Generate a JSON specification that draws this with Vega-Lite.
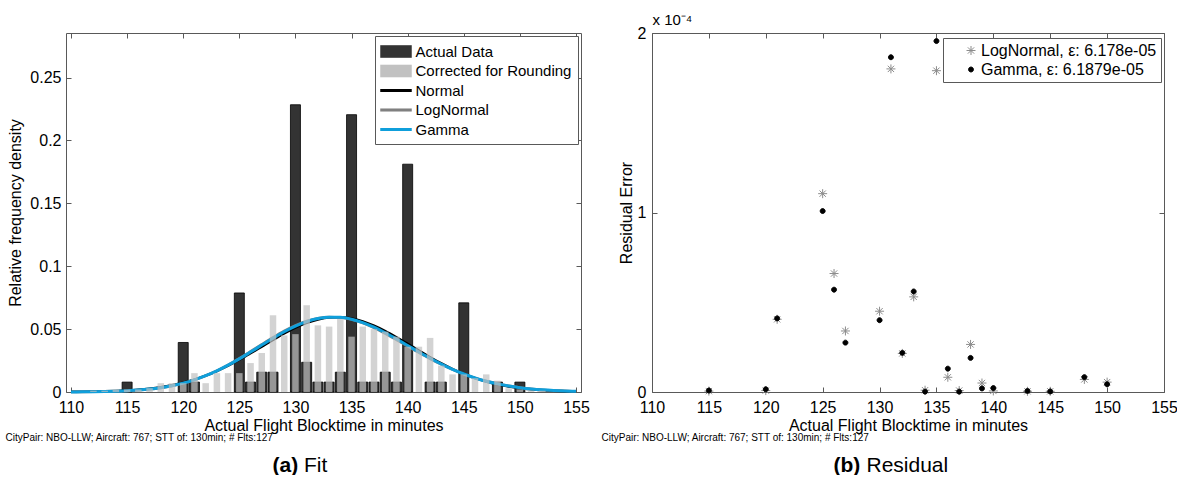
{
  "$schema": "https://vega.github.io/schema/vega-lite/v6.json",
  "background": "white",
  "padding": {"left": 5, "top": 12, "right": 5, "bottom": 0},
  "bounds": "flush",
  "spacing": 71,
  "config": {
    "font": "Liberation Sans",
    "view": {"stroke": null},
    "axis": {
      "labelFont": "Liberation Sans", "titleFont": "Liberation Sans",
      "labelFontSize": 16, "titleFontSize": 16, "titleFontWeight": "normal",
      "labelColor": "#000000", "titleColor": "#000000",
      "domainColor": "#595959", "tickColor": "#595959", "domainWidth": 1, "tickWidth": 1,
      "grid": false, "tickSize": -5, "labelFlush": false, "labelOverlap": false, "minExtent": 0
    },
    "legend": {"labelFont": "Liberation Sans", "labelFontSize": 15, "labelColor": "#000000", "strokeColor": "#595959", "fillColor": "#ffffff", "labelLimit": 400},
    "title": {"font": "Liberation Sans", "color": "#000000", "fontWeight": "normal"}
  },
  "datasets": {
    "actual": [
      {"minute": 115, "density": 0.00787}, {"minute": 120, "density": 0.03937}, {"minute": 121, "density": 0.00787},
      {"minute": 125, "density": 0.07874}, {"minute": 126, "density": 0.00787}, {"minute": 127, "density": 0.01575},
      {"minute": 128, "density": 0.01575}, {"minute": 130, "density": 0.22835}, {"minute": 131, "density": 0.02362},
      {"minute": 132, "density": 0.00787}, {"minute": 133, "density": 0.00787}, {"minute": 134, "density": 0.01575},
      {"minute": 135, "density": 0.22047}, {"minute": 136, "density": 0.00787}, {"minute": 137, "density": 0.00787},
      {"minute": 138, "density": 0.01575}, {"minute": 139, "density": 0.00787}, {"minute": 140, "density": 0.1811},
      {"minute": 142, "density": 0.00787}, {"minute": 143, "density": 0.00787}, {"minute": 145, "density": 0.07087},
      {"minute": 148, "density": 0.00787}, {"minute": 150, "density": 0.00787}
    ],
    "corrected": [
      {"minute": 112, "density": 0.001}, {"minute": 113, "density": 0.001}, {"minute": 114, "density": 0.002},
      {"minute": 115, "density": 0.002}, {"minute": 116, "density": 0.002}, {"minute": 117, "density": 0.003},
      {"minute": 118, "density": 0.007}, {"minute": 119, "density": 0.007}, {"minute": 120, "density": 0.007},
      {"minute": 121, "density": 0.015}, {"minute": 122, "density": 0.007}, {"minute": 123, "density": 0.015},
      {"minute": 124, "density": 0.015}, {"minute": 125, "density": 0.015}, {"minute": 126, "density": 0.023},
      {"minute": 127, "density": 0.031}, {"minute": 128, "density": 0.061}, {"minute": 129, "density": 0.045},
      {"minute": 130, "density": 0.046}, {"minute": 131, "density": 0.069}, {"minute": 132, "density": 0.053},
      {"minute": 133, "density": 0.052}, {"minute": 134, "density": 0.058}, {"minute": 135, "density": 0.044},
      {"minute": 136, "density": 0.052}, {"minute": 137, "density": 0.05}, {"minute": 138, "density": 0.048},
      {"minute": 139, "density": 0.044}, {"minute": 140, "density": 0.036}, {"minute": 141, "density": 0.036},
      {"minute": 142, "density": 0.043}, {"minute": 143, "density": 0.021}, {"minute": 144, "density": 0.014},
      {"minute": 145, "density": 0.014}, {"minute": 146, "density": 0.011}, {"minute": 147, "density": 0.014},
      {"minute": 148, "density": 0.009}, {"minute": 149, "density": 0.003}, {"minute": 150, "density": 0.002},
      {"minute": 151, "density": 0.001}, {"minute": 152, "density": 0.001}
    ],
    "curves": [
      {"minute": 110, "normal": 0.00011, "lognormal": 0.00002, "gamma": 0.00005},
      {"minute": 111, "normal": 0.00019, "lognormal": 0.00005, "gamma": 0.0001},
      {"minute": 112, "normal": 0.00031, "lognormal": 0.00012, "gamma": 0.00019},
      {"minute": 113, "normal": 0.0005, "lognormal": 0.00025, "gamma": 0.00033},
      {"minute": 114, "normal": 0.00079, "lognormal": 0.00046, "gamma": 0.00057},
      {"minute": 115, "normal": 0.00121, "lognormal": 0.0008, "gamma": 0.00094},
      {"minute": 116, "normal": 0.00182, "lognormal": 0.00134, "gamma": 0.0015},
      {"minute": 117, "normal": 0.00267, "lognormal": 0.00214, "gamma": 0.00231},
      {"minute": 118, "normal": 0.00382, "lognormal": 0.00326, "gamma": 0.00345},
      {"minute": 119, "normal": 0.00537, "lognormal": 0.00484, "gamma": 0.00502},
      {"minute": 120, "normal": 0.00736, "lognormal": 0.00692, "gamma": 0.00707},
      {"minute": 121, "normal": 0.00987, "lognormal": 0.00959, "gamma": 0.00969},
      {"minute": 122, "normal": 0.01297, "lognormal": 0.01294, "gamma": 0.01296},
      {"minute": 123, "normal": 0.01664, "lognormal": 0.01694, "gamma": 0.01684},
      {"minute": 124, "normal": 0.02088, "lognormal": 0.02157, "gamma": 0.02134},
      {"minute": 125, "normal": 0.02562, "lognormal": 0.02672, "gamma": 0.02635},
      {"minute": 126, "normal": 0.03078, "lognormal": 0.03226, "gamma": 0.03177},
      {"minute": 127, "normal": 0.03611, "lognormal": 0.03792, "gamma": 0.03731},
      {"minute": 128, "normal": 0.04146, "lognormal": 0.04345, "gamma": 0.04279},
      {"minute": 129, "normal": 0.04656, "lognormal": 0.04861, "gamma": 0.04791},
      {"minute": 130, "normal": 0.05113, "lognormal": 0.05302, "gamma": 0.05241},
      {"minute": 131, "normal": 0.0549, "lognormal": 0.05646, "gamma": 0.05594},
      {"minute": 132, "normal": 0.05765, "lognormal": 0.05873, "gamma": 0.05836},
      {"minute": 133, "normal": 0.05921, "lognormal": 0.05967, "gamma": 0.05952},
      {"minute": 134, "normal": 0.05948, "lognormal": 0.05928, "gamma": 0.05935},
      {"minute": 135, "normal": 0.05843, "lognormal": 0.05759, "gamma": 0.05787},
      {"minute": 136, "normal": 0.05613, "lognormal": 0.05473, "gamma": 0.0552},
      {"minute": 137, "normal": 0.05274, "lognormal": 0.05095, "gamma": 0.05154},
      {"minute": 138, "normal": 0.04846, "lognormal": 0.04645, "gamma": 0.04712},
      {"minute": 139, "normal": 0.04354, "lognormal": 0.04149, "gamma": 0.04218},
      {"minute": 140, "normal": 0.03827, "lognormal": 0.03636, "gamma": 0.037},
      {"minute": 141, "normal": 0.03288, "lognormal": 0.03127, "gamma": 0.0318},
      {"minute": 142, "normal": 0.02764, "lognormal": 0.02638, "gamma": 0.0268},
      {"minute": 143, "normal": 0.02271, "lognormal": 0.02187, "gamma": 0.02214},
      {"minute": 144, "normal": 0.01826, "lognormal": 0.01781, "gamma": 0.01796},
      {"minute": 145, "normal": 0.01435, "lognormal": 0.01426, "gamma": 0.01429},
      {"minute": 146, "normal": 0.01104, "lognormal": 0.01123, "gamma": 0.01116},
      {"minute": 147, "normal": 0.0083, "lognormal": 0.00869, "gamma": 0.00856},
      {"minute": 148, "normal": 0.0061, "lognormal": 0.00661, "gamma": 0.00644},
      {"minute": 149, "normal": 0.00439, "lognormal": 0.00495, "gamma": 0.00476},
      {"minute": 150, "normal": 0.00309, "lognormal": 0.00364, "gamma": 0.00345},
      {"minute": 151, "normal": 0.00212, "lognormal": 0.00262, "gamma": 0.00245},
      {"minute": 152, "normal": 0.00143, "lognormal": 0.00187, "gamma": 0.00172},
      {"minute": 153, "normal": 0.00094, "lognormal": 0.0013, "gamma": 0.00118},
      {"minute": 154, "normal": 0.00061, "lognormal": 0.0009, "gamma": 0.0008},
      {"minute": 155, "normal": 0.00038, "lognormal": 0.00059, "gamma": 0.00052}
    ],
    "residual": [
      {"minute": 115, "lognormal": 5e-7, "gamma": 8e-7},
      {"minute": 120, "lognormal": 8e-7, "gamma": 1.5e-6},
      {"minute": 121, "lognormal": 4.05e-5, "gamma": 4.1e-5},
      {"minute": 125, "lognormal": 1.105e-4, "gamma": 1.008e-4},
      {"minute": 126, "lognormal": 6.6e-5, "gamma": 5.7e-5},
      {"minute": 127, "lognormal": 3.4e-5, "gamma": 2.75e-5},
      {"minute": 130, "lognormal": 4.5e-5, "gamma": 4.0e-5},
      {"minute": 131, "lognormal": 1.8e-4, "gamma": 1.865e-4},
      {"minute": 132, "lognormal": 2.15e-5, "gamma": 2.18e-5},
      {"minute": 133, "lognormal": 5.3e-5, "gamma": 5.6e-5},
      {"minute": 134, "lognormal": 1.0e-6, "gamma": 2e-7},
      {"minute": 135, "lognormal": 1.79e-4, "gamma": 1.955e-4},
      {"minute": 136, "lognormal": 8.2e-6, "gamma": 1.3e-5},
      {"minute": 137, "lognormal": 8e-7, "gamma": 2e-7},
      {"minute": 138, "lognormal": 2.65e-5, "gamma": 1.9e-5},
      {"minute": 139, "lognormal": 5.0e-6, "gamma": 2.0e-6},
      {"minute": 140, "lognormal": 6e-7, "gamma": 2.2e-6},
      {"minute": 143, "lognormal": 4e-7, "gamma": 6e-7},
      {"minute": 145, "lognormal": 4e-7, "gamma": 3e-7},
      {"minute": 148, "lognormal": 7.0e-6, "gamma": 8.3e-6},
      {"minute": 150, "lognormal": 5.5e-6, "gamma": 4.3e-6}
    ]
  },
  "hconcat": [
    {
      "width": 515,
      "height": 359,
      "resolve": {"axis": {"x": "independent", "y": "independent"}},
      "layer": [
        {
          "data": {"name": "actual"},
          "mark": {"type": "bar", "size": 10, "stroke": "#000000", "strokeWidth": 0.8},
          "encoding": {
            "x": {"field": "minute", "type": "quantitative", "scale": {"domain": [110, 155], "nice": false, "zero": false},
                  "axis": {"orient": "bottom", "values": [110, 115, 120, 125, 130, 135, 140, 145, 150, 155], "title": "Actual Flight Blocktime in minutes", "labelPadding": 12, "titlePadding": 2}},
            "y": {"field": "density", "type": "quantitative", "scale": {"domain": [0, 0.2854], "nice": false},
                  "axis": {"orient": "left", "values": [0, 0.05, 0.1, 0.15, 0.2, 0.25], "format": "~g", "title": "Relative frequency density", "labelPadding": 10, "titlePadding": 6}},
            "color": {
              "datum": "Actual Data",
              "scale": {"domain": ["Actual Data", "Corrected for Rounding", "Normal", "LogNormal", "Gamma"], "range": ["#333333", "#c1c1c1", "#000000", "#808080", "#0f9fdb"]},
              "legend": {
                "title": null, "orient": "none", "legendX": 309, "legendY": 3,
                "padding": 6.5, "symbolSize": 324, "symbolOffset": 5.5, "labelOffset": 10.5, "rowPadding": 2.5,
                "symbolStrokeWidth": 0,
                "encoding": {"symbols": {
                  "shape": {"condition": {"test": "datum.value === 'Actual Data' || datum.value === 'Corrected for Rounding'", "value": "M-1.75,-0.7L1.75,-0.7L1.75,0.7L-1.75,0.7Z"}, "value": "M-1.75,-0.17L1.75,-0.17L1.75,0.17L-1.75,0.17Z"},
                  "fill": {"condition": [{"test": "datum.value === 'Actual Data'", "value": "#333333"}, {"test": "datum.value === 'Corrected for Rounding'", "value": "#d3d3d3"}, {"test": "datum.value === 'Normal'", "value": "#000000"}, {"test": "datum.value === 'LogNormal'", "value": "#808080"}], "value": "#0f9fdb"},
                  "opacity": {"value": 1}
                }}
              }
            }
          }
        },
        {
          "data": {"name": "curves"},
          "mark": {"type": "line", "strokeWidth": 2.5, "interpolate": "monotone"},
          "encoding": {
            "x": {"field": "minute", "type": "quantitative",
                  "axis": {"orient": "bottom", "domain": false, "ticks": false, "labels": false, "title": "CityPair: NBO-LLW; Aircraft: 767; STT of: 130min; # Flts:127", "titleFontSize": 10, "titleX": -61, "titleY": 45, "titleAlign": "left", "titleBaseline": "middle"}},
            "y": {"field": "normal", "type": "quantitative", "axis": null},
            "color": {"datum": "Normal"}
          }
        },
        {
          "data": {"name": "curves"},
          "mark": {"type": "line", "strokeWidth": 2.5, "interpolate": "monotone"},
          "encoding": {
            "x": {"field": "minute", "type": "quantitative",
                  "axis": {"orient": "bottom", "domain": false, "ticks": false, "labels": false, "title": "(a)", "titleFontSize": 21, "titleFontWeight": "bold", "titleX": 206, "titleY": 73, "titleAlign": "left", "titleBaseline": "middle"}},
            "y": {"field": "lognormal", "type": "quantitative", "axis": null},
            "color": {"datum": "LogNormal"}
          }
        },
        {
          "data": {"name": "curves"},
          "mark": {"type": "line", "strokeWidth": 3, "interpolate": "monotone"},
          "encoding": {
            "x": {"field": "minute", "type": "quantitative",
                  "axis": {"orient": "bottom", "domain": false, "ticks": false, "labels": false, "title": "Fit", "titleFontSize": 21, "titleX": 237.5, "titleY": 73, "titleAlign": "left", "titleBaseline": "middle"}},
            "y": {"field": "gamma", "type": "quantitative", "axis": null},
            "color": {"datum": "Gamma"}
          }
        },
        {
          "data": {"name": "corrected"},
          "mark": {"type": "bar", "size": 6.5, "opacity": 0.7},
          "encoding": {
            "x": {"field": "minute", "type": "quantitative",
                  "axis": {"orient": "top", "labels": false, "title": null, "values": [110, 115, 120, 125, 130, 135, 140, 145, 150, 155]}},
            "y": {"field": "density", "type": "quantitative",
                  "axis": {"orient": "right", "labels": false, "title": null, "values": [0, 0.05, 0.1, 0.15, 0.2, 0.25]}},
            "color": {"datum": "Corrected for Rounding"}
          }
        }
      ]
    },
    {
      "width": 512,
      "height": 359,
      "resolve": {"axis": {"x": "independent", "y": "independent"}},
      "layer": [
        {
          "data": {"name": "residual"},
          "mark": {"type": "point", "strokeWidth": 1, "opacity": 1, "size": 81},
          "encoding": {
            "x": {"field": "minute", "type": "quantitative", "scale": {"domain": [110, 155], "nice": false, "zero": false},
                  "axis": {"orient": "bottom", "values": [110, 115, 120, 125, 130, 135, 140, 145, 150, 155], "title": "Actual Flight Blocktime in minutes", "labelPadding": 12, "titlePadding": 2}},
            "y": {"field": "lognormal", "type": "quantitative", "scale": {"domain": [0, 0.0002], "nice": false},
                  "axis": {"orient": "left", "values": [0, 0.0001, 0.0002], "labelExpr": "format(datum.value * 10000, 'd')", "title": "Residual Error", "labelPadding": 11, "titlePadding": 3}},
            "fill": {"datum": "LogNormal", "scale": {"domain": ["LogNormal", "Gamma"], "range": ["transparent", "#000000"]}},
            "stroke": {"datum": "LogNormal", "scale": {"domain": ["LogNormal", "Gamma"], "range": ["#8c8c8c", "#000000"]}},
            "shape": {"datum": "LogNormal",
              "scale": {"domain": ["LogNormal", "Gamma"], "range": ["M-1,0L1,0M0,-1L0,1M-0.7,-0.7L0.7,0.7M-0.7,0.7L0.7,-0.7", "M0.55,0A0.55,0.55,0,1,1,-0.55,0A0.55,0.55,0,1,1,0.55,0Z"]},
              "legend": {
                "title": null, "orient": "none", "legendX": 877, "legendY": 5,
                "padding": 4.5, "symbolSize": 81, "symbolOffset": 15.5, "labelOffset": 2, "rowPadding": 3, "symbolStrokeWidth": 1,
                "labelFontSize": 16,
                "labelExpr": "datum.label === 'LogNormal' ? 'LogNormal, ε: 6.178e-05' : 'Gamma, ε: 6.1879e-05'"
              }
            }
          }
        },
        {
          "data": {"name": "residual"},
          "mark": {"type": "point", "strokeWidth": 1, "opacity": 1, "size": 81},
          "encoding": {
            "x": {"field": "minute", "type": "quantitative",
                  "axis": {"orient": "top", "labels": false, "values": [110, 115, 120, 125, 130, 135, 140, 145, 150, 155], "title": "x 10⁻⁴", "titleAnchor": "start", "titleAlign": "left", "titleFontSize": 15, "titlePadding": 5}},
            "y": {"field": "gamma", "type": "quantitative",
                  "axis": {"orient": "right", "labels": false, "title": null, "values": [0, 0.0001, 0.0002]}},
            "fill": {"datum": "Gamma"},
            "stroke": {"datum": "Gamma"},
            "shape": {"datum": "Gamma"}
          }
        },
        {
          "data": {"name": "residual"},
          "mark": {"type": "point", "opacity": 0},
          "encoding": {
            "x": {"field": "minute", "type": "quantitative",
                  "axis": {"orient": "bottom", "domain": false, "ticks": false, "labels": false, "title": "CityPair: NBO-LLW; Aircraft: 767; STT of: 130min; # Flts:127", "titleFontSize": 10, "titleX": -51, "titleY": 45, "titleAlign": "left", "titleBaseline": "middle"}},
            "y": {"field": "gamma", "type": "quantitative", "axis": null}
          }
        },
        {
          "data": {"name": "residual"},
          "mark": {"type": "point", "opacity": 0},
          "encoding": {
            "x": {"field": "minute", "type": "quantitative",
                  "axis": {"orient": "bottom", "domain": false, "ticks": false, "labels": false, "title": "(b)", "titleFontSize": 21, "titleFontWeight": "bold", "titleX": 181, "titleY": 73, "titleAlign": "left", "titleBaseline": "middle"}},
            "y": {"field": "gamma", "type": "quantitative", "axis": null}
          }
        },
        {
          "data": {"name": "residual"},
          "mark": {"type": "point", "opacity": 0},
          "encoding": {
            "x": {"field": "minute", "type": "quantitative",
                  "axis": {"orient": "bottom", "domain": false, "ticks": false, "labels": false, "title": "Residual", "titleFontSize": 21, "titleX": 214, "titleY": 73, "titleAlign": "left", "titleBaseline": "middle"}},
            "y": {"field": "gamma", "type": "quantitative", "axis": null}
          }
        }
      ]
    }
  ]
}
